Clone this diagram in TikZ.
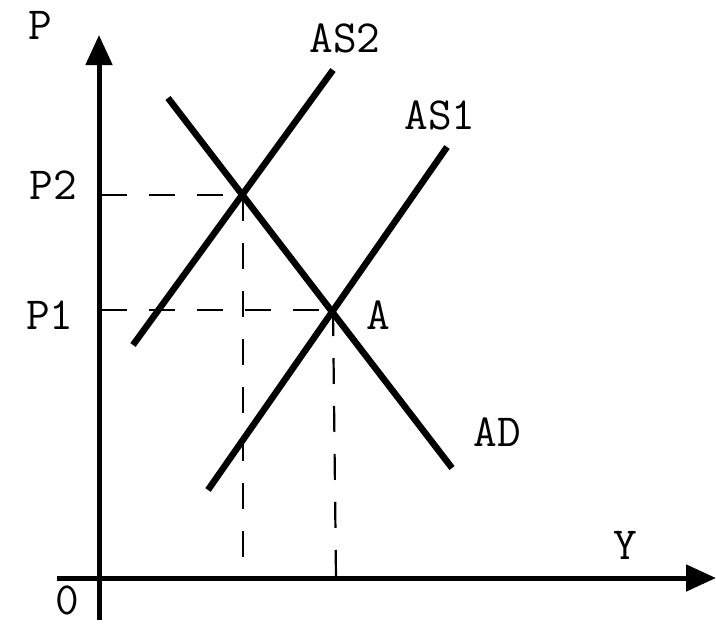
\documentclass[tikz,border=0pt]{standalone}
\usepackage{fontspec}
\usetikzlibrary{arrows.meta}
\begin{document}
\begin{tikzpicture}[x=1pt,y=-1pt,
  axis/.style={line width=5pt,-{Triangle[length=30pt,width=26pt]}},
  curve/.style={line width=6.5pt},
  guide/.style={line width=2.2pt,dash pattern=on 26pt off 22pt},
  lbl/.style={font=\ttfamily\fontsize{46}{46}\selectfont,inner sep=0pt}]
\useasboundingbox (0,0) rectangle (716,624);
% axes
\coordinate (ybot) at (99,620);
\coordinate (ytop) at (99,35);
\coordinate (xleft) at (57,578);
\coordinate (xright) at (716,578);
\draw[axis] (ybot) -- (ytop);
\draw[axis] (xleft) -- (xright);
% curve end points
\coordinate (as2a) at (133,345);
\coordinate (as2b) at (333,70);
\coordinate (as1a) at (208,490);
\coordinate (as1b) at (447,147);
\coordinate (ada) at (168,98);
\coordinate (adb) at (452,468);
\coordinate (E2) at (243,195);
\coordinate (A) at (333,310);
\coordinate (p2ax) at (101,195);
\coordinate (p1ax) at (101,310);
\coordinate (E2x) at (243,578);
\coordinate (Ax) at (336,578);
% guides
\draw[guide] (p2ax) -- (E2);
\draw[guide] (E2) -- (E2x);
\draw[guide] (p1ax) -- (A);
\draw[guide] (A) -- (Ax);
% curves
\draw[curve] (as2a) -- (as2b);
\draw[curve] (as1a) -- (as1b);
\draw[curve] (ada) -- (adb);
% labels
\node[lbl] (lP) at (40,25) {P};
\node[lbl] (lP2) at (53,185) {P2};
\node[lbl] (lP1) at (50,315) {P1};
\node[lbl] (l0) at (67,600) {0};
\node[lbl] (lY) at (625,545) {Y};
\node[lbl] (lAS2) at (345,38) {AS2};
\node[lbl] (lAS1) at (440,115) {AS1};
\node[lbl] (lA) at (378,315) {A};
\node[lbl] (lAD) at (497,432) {AD};
\end{tikzpicture}
\end{document}
